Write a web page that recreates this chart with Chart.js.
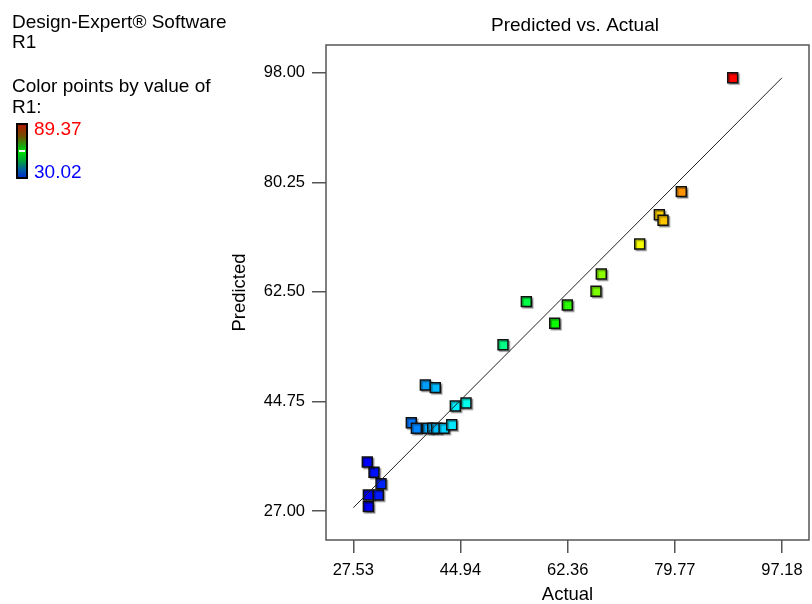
<!DOCTYPE html>
<html>
<head>
<meta charset="utf-8">
<script src="https://cdn.jsdelivr.net/npm/chart.js@4.4.1/dist/chart.umd.min.js"></script>
<style>
  body { margin: 0; background: #fff; font-family: "Liberation Sans", Arial, sans-serif; }
  #wrap { position: relative; width: 812px; height: 604px; }
  canvas { position: absolute; left: 0; top: 0; }
  .txt { position: absolute; font-size: 19px; line-height: 19px; color: #000; white-space: nowrap; }
  #bar { position: absolute; left: 16px; top: 123px; width: 8px; height: 52px; border: 2px solid #000;
         background: linear-gradient(to bottom, #b01c00 0%, #705000 22%, #10b010 42%, #00e000 52%, #00a040 70%, #0060a0 86%, #0030c8 100%); }
  #mark { position: absolute; left: 1px; top: 25px; width: 6px; height: 2px; background: #fff; }
</style>
</head>
<body>
<div id="wrap">
  <canvas id="myChart" width="812" height="604"></canvas>
  <div class="txt" style="left:12px;top:12px">Design-Expert® Software</div>
  <div class="txt" style="left:12px;top:32px">R1</div>
  <div class="txt" style="left:12px;top:76px">Color points by value of</div>
  <div class="txt" style="left:12px;top:97px">R1:</div>
  <div id="bar"><div id="mark"></div></div>
  <div class="txt" style="left:34px;top:119px;color:#ff0000">89.37</div>
  <div class="txt" style="left:34px;top:162px;color:#0000ff">30.02</div>
</div>
<script>
// Actual vs predicted values for R1
var actual = [29.97, 29.97, 31.59, 32.03, 30.89, 29.80, 36.95, 37.77, 39.62, 40.43, 41.08, 42.27, 43.52, 44.10,
              45.84, 39.23, 40.85, 51.85, 55.64, 60.25, 62.30, 66.96, 67.82, 74.06, 77.25, 77.85, 80.82, 89.17];
var predicted = [27.70, 29.59, 29.59, 31.42, 33.27, 34.94, 41.30, 40.40, 40.40, 40.40, 40.40, 40.40, 40.98, 44.01,
                 44.50, 47.41, 46.98, 53.94, 60.91, 57.41, 60.37, 62.59, 65.39, 70.25, 75.00, 74.09, 78.73, 97.19];
// y = x reference line
var lineEnds = [27.53, 97.18];
// tick labels
var xTicks = [27.53, 44.94, 62.36, 79.77, 97.18];
var yTicks = [27.00, 44.75, 62.50, 80.25, 98.00];
var colorMin = 30.02, colorMax = 89.37;

function colorFor(v) {
    var t = (v - colorMin) / (colorMax - colorMin);
    t = Math.max(0, Math.min(1, t));
    return 'hsl(' + (240 * (1 - t)) + ', 100%, 50%)';
}

var points = actual.map(function (a, i) { return {x: a, y: predicted[i]}; });
var line = lineEnds.map(function (v) { return {x: v, y: v}; });

var boxPlugin = {
    id: 'box',
    beforeDatasetDraw: function (chart, args) {
        if (args.index === 1) {
            var c = chart.ctx;
            c.save();
            c.shadowColor = 'rgba(0,0,0,0.35)';
            c.shadowOffsetX = 1.5;
            c.shadowOffsetY = 1.5;
            c.shadowBlur = 1;
        }
    },
    afterDatasetDraw: function (chart, args) {
        if (args.index === 1) chart.ctx.restore();
    },
    afterDraw: function (chart) {
        var a = chart.chartArea, c = chart.ctx;
        c.save();
        c.strokeStyle = '#555';
        c.lineWidth = 1.5;
        c.strokeRect(a.left, a.top, a.right - a.left, a.bottom - a.top);
        c.fillStyle = '#000';
        c.font = '19px "Liberation Sans", Arial, sans-serif';
        c.textAlign = 'center';
        c.textBaseline = 'middle';
        c.fillText('Predicted vs. Actual', 575, 26);
        c.restore();
    }
};

var ctx = document.getElementById("myChart");

var myChart = new Chart(ctx, {
    type: 'scatter',
    data: {
        datasets: [
            {
                type: 'line',
                data: line,
                borderColor: '#222',
                borderWidth: 1,
                pointRadius: 0,
                order: 0
            },
            {
                data: points,
                pointStyle: 'rect',
                pointRadius: 7,
                pointHoverRadius: 7,
                pointBackgroundColor: actual.map(colorFor),
                pointBorderColor: '#111',
                pointBorderWidth: 1.5,
                order: 1
            }
        ]
    },
    plugins: [boxPlugin],
    options: {
        responsive: false,
        animation: false,
        layout: { autoPadding: false, padding: { left: 226, right: 3, top: 45, bottom: 0 } },
        plugins: { legend: { display: false }, tooltip: { enabled: false } },
        scales: {
            x: {
                type: 'linear',
                min: 23.09,
                max: 101.57,
                afterFit: function (s) { s.height = 64; s.paddingLeft = 0; s.paddingRight = 0; },
                afterBuildTicks: function (s) { s.ticks = xTicks.map(function (v) { return {value: v}; }); },
                ticks: {
                    color: '#000',
                    padding: 8,
                    maxRotation: 0,
                    font: { size: 16.5, family: '"Liberation Sans", Arial, sans-serif' },
                    callback: function (v) { return v.toFixed(2); }
                },
                grid: { drawOnChartArea: false, tickLength: 13, color: '#555', lineWidth: 1.5 },
                border: { display: false },
                title: {
                    display: true, text: 'Actual', color: '#000', padding: 0,
                    font: { size: 18.5, family: '"Liberation Sans", Arial, sans-serif', lineHeight: 1.0 }
                }
            },
            y: {
                type: 'linear',
                min: 22.30,
                max: 102.49,
                afterFit: function (s) { s.width = 100; s.paddingTop = 0; s.paddingBottom = 0; },
                afterBuildTicks: function (s) { s.ticks = yTicks.map(function (v) { return {value: v}; }); },
                ticks: {
                    color: '#000',
                    padding: 7,
                    font: { size: 16.5, family: '"Liberation Sans", Arial, sans-serif' },
                    callback: function (v) { return v.toFixed(2); }
                },
                grid: { drawOnChartArea: false, tickLength: 14, color: '#555', lineWidth: 1.5 },
                border: { display: false },
                title: {
                    display: true, text: 'Predicted', color: '#000', padding: { top: 5, bottom: 0 },
                    font: { size: 18.5, family: '"Liberation Sans", Arial, sans-serif', lineHeight: 1.0 }
                }
            }
        }
    }
});
</script>
</body>
</html>
